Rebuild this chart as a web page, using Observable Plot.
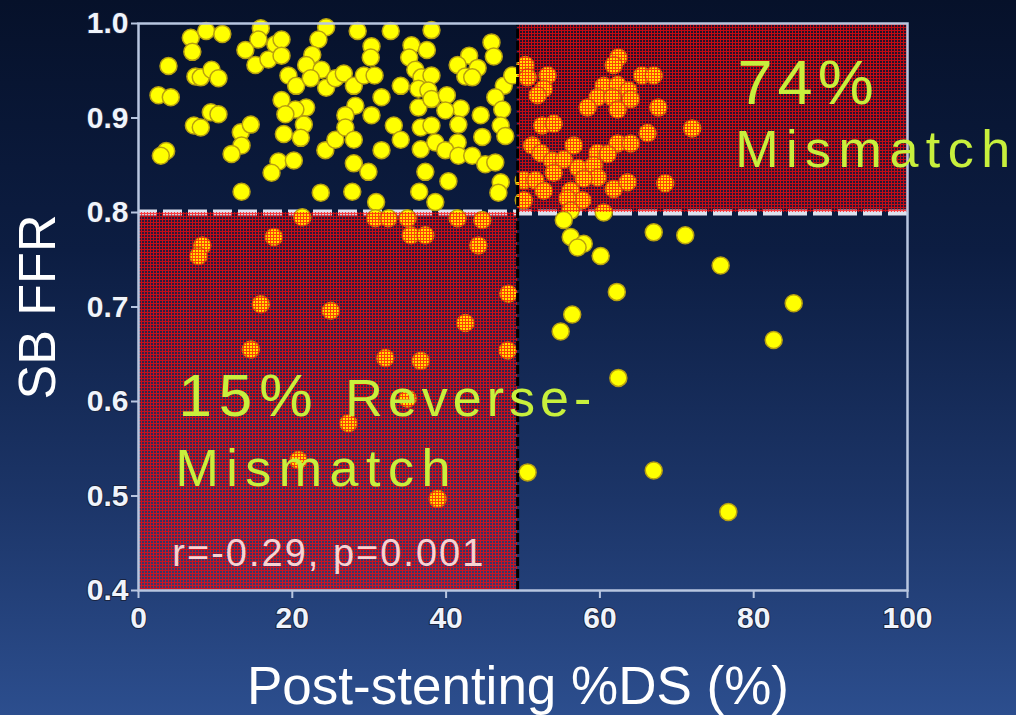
<!DOCTYPE html>
<html>
<head>
<meta charset="utf-8">
<script src="https://cdn.jsdelivr.net/npm/d3@7"></script>
<script src="https://cdn.jsdelivr.net/npm/@observablehq/plot@0.6"></script>
<style>
  html, body { margin: 0; padding: 0; width: 1016px; height: 715px; overflow: hidden;
    background: linear-gradient(to bottom, #06112a 0%, #0c1d42 35%, #1c3568 70%, #2c4e8e 100%); }
  #chart svg { display: block; }
</style>
</head>
<body>
<div id="chart"></div>
<svg width="0" height="0" style="position:absolute">
  <defs>
    <pattern id="hatch" width="3" height="3" patternUnits="userSpaceOnUse">
      <rect width="3" height="3" fill="#ff0010" fill-opacity="0.12"></rect>
      <path d="M0,0.5H3M0.5,1V3" stroke="#ff0808" stroke-width="1" stroke-opacity="0.72"></path>
    </pattern>
  </defs>
</svg>
<script>
// Post-stenting %DS (x) and SB FFR (y)
const postDS = [
  6.8,8.8,10.9,7.0,3.9,7.4,8.1,9.5,10.4,2.6,4.2,9.4,10.4,15.9,15.6,13.9,15.2,16.9,17.8,18.6,18.6,24.4,23.4,22.6,21.8,23.8,19.5,20.5,22.4,18.6,21.8,20.4,19.1,24.4,25.6,26.7,28.0,28.5,30.3,30.2,29.3,30.7,31.6,28.2,26.9,30.3,32.8,34.1,35.5,35.2,37.5,38.1,36.0,36.8,38.1,36.4,37.7,36.4,38.1,
  7.2,8.1,13.3,14.6,13.4,12.1,3.6,2.9,21.5,18.9,21.1,18.2,17.3,20.2,13.4,23.7,24.3,25.6,26.9,28.0,28.0,29.9,27.8,30.9,31.6,33.2,34.1,36.7,38.1,36.7,37.3,36.5,38.6,38.6,
  45.9,46.2,43.0,41.5,44.1,42.5,43.4,40.1,41.9,39.9,44.5,47.5,48.6,46.4,47.3,
  41.6,47.1,44.7,47.7,41.5,39.9,41.6,43.4,45.1,46.4,40.3,47.1,46.8,
  50.3,50.6,53.2,52.7,51.9,62.4,61.8,65.5,67.0,60.5,62.3,63.7,59.7,61.6,62.3,58.4,64.0,67.6,
  52.5,54.0,66.2,72.0,51.2,52.3,56.6,62.3,64.0,59.7,61.0,53.8,55.3,54.0,57.2,59.2,59.7,57.9,50.1,51.6,52.7,56.2,61.8,63.6,57.7,55.8,50.1,68.5,
  56.2,60.5,55.3,56.2,57.9,57.1,60.1,67.0,71.1,75.7,62.2,56.4,54.9,62.4,82.6,85.2,50.6,67.0,76.7,
  8.3,7.8,17.6,21.3,30.8,32.5,35.0,35.4,37.3,41.5,44.7,44.2,48.1,42.5,48.0,15.9,25.0,14.6,32.1,36.7,35.0,27.3,20.8,38.9
];
const sbFFR = [
  .985,.992,.989,.970,.955,.944,.943,.951,.942,.924,.922,.906,.904,.995,.983,.972,.956,.962,.978,.983,.966,.996,.983,.967,.956,.951,.945,.934,.942,.919,.911,.909,.904,.932,.942,.947,.934,.992,.976,.964,.945,.945,.922,.913,.903,.903,.992,.934,.977,.964,.972,.993,.951,.943,.945,.931,.929,.911,.920,
  .892,.890,.885,.893,.871,.862,.865,.860,.893,.883,.879,.854,.842,.855,.822,.821,.866,.877,.890,.877,.852,.843,.822,.811,.866,.892,.877,.890,.892,.867,.843,.822,.874,.811,
  .980,.965,.966,.956,.953,.944,.943,.924,.910,.908,.903,.934,.945,.922,.909,
  .893,.892,.880,.881,.874,.866,.860,.860,.851,.853,.833,.832,.821,
  .956,.943,.945,.931,.924,.964,.956,.945,.945,.934,.935,.929,.922,.922,.909,.911,.920,.911,
  .892,.894,.884,.889,.871,.863,.871,.873,.873,.863,.862,.855,.856,.842,.847,.850,.837,.836,.834,.834,.823,.823,.825,.832,.813,.815,.813,.831,
  .802,.800,.792,.774,.767,.763,.754,.779,.776,.744,.716,.692,.674,.625,.665,.704,.525,.527,.483,
  .765,.754,.774,.795,.794,.794,.794,.776,.776,.794,.792,.765,.714,.683,.654,.703,.696,.655,.646,.643,.603,.577,.538,.497
];
const cutoffDS = [49.3];
const cutoffFFR = [0.8];
const xTicks = [0, 20, 40, 60, 80, 100];
const yTicks = [0.4, 0.5, 0.6, 0.7, 0.8, 0.9, 1.0];
const xLabel = "Post-stenting %DS (%)";
const yLabel = "SB FFR";
const mismatchZones = [
  {x1: 0, x2: 49.3, y1: 0.4, y2: 0.8},
  {x1: 49.3, x2: 100, y1: 0.8, y2: 1.0}
];
const noteTexts = ["74%", "Mismatch", "15%", "Reverse-", "Mismatch", "r=-0.29, p=0.001"];

const points = postDS.map((x, i) => ({x, y: sbFFR[i]}));
const font = "Liberation Sans, Arial, Helvetica, sans-serif";
const green = "#c8f03c";

const plot = Plot.plot({
  width: 1016,
  height: 715,
  marginLeft: 138,
  marginRight: 109,
  marginTop: 23,
  marginBottom: 125,
  style: {background: "transparent", color: "#eef2fa", fontFamily: font, overflow: "visible"},
  x: {domain: [0, 100]},
  y: {domain: [0.4, 1.0]},
  marks: [
    Plot.ruleY(cutoffFFR, {stroke: "#dde2ee", strokeWidth: 6, strokeDasharray: "19,6"}),
    Plot.dot(points, {x: "x", y: "y", r: 8.5, fill: "#ffff00", stroke: "#b8a010", strokeWidth: 1.5}),
    Plot.rect(mismatchZones, {x1: "x1", x2: "x2", y1: "y1", y2: "y2", fill: "url(#hatch)"}),
    Plot.ruleX(cutoffDS, {y1: 0.4, y2: 1.0, stroke: "#000", strokeWidth: 3, strokeDasharray: "9,3"}),
    Plot.frame({stroke: "#b8c6e0", strokeWidth: 2.5}),
    Plot.axisX(xTicks, {tickSize: 8, tickPadding: 8, fontSize: 30, fontWeight: "bold", fontFamily: font,
      stroke: "#b8c6e0", strokeWidth: 2, fill: "#f0f4fb", textStroke: "#1a2440", textStrokeWidth: 2, label: null}),
    Plot.axisY(yTicks, {tickSize: 7, tickPadding: 3, fontSize: 30, fontWeight: "bold", fontFamily: font,
      stroke: "#b8c6e0", strokeWidth: 2, fill: "#f0f4fb", textStroke: "#1a2440", textStrokeWidth: 2,
      tickFormat: d3.format(".1f"), label: null}),
    Plot.text([yLabel], {frameAnchor: "left", textAnchor: "middle", dx: -100, rotate: -90, fontSize: 52, fill: "#ffffff", fontFamily: font, lineAnchor: "middle"}),
    Plot.text([xLabel], {frameAnchor: "bottom", textAnchor: "middle", dx: -5, dy: 97, fontSize: 53, fill: "#ffffff", fontFamily: font, lineAnchor: "middle"}),
    Plot.text([noteTexts[0]], {x: 77.9, y: 0.915, textAnchor: "start", lineAnchor: "bottom", fontSize: 63, fill: green, fontFamily: font}),
    Plot.text([noteTexts[1]], {x: 77.6, y: 0.848, textAnchor: "start", lineAnchor: "bottom", fontSize: 52, fill: green, fontFamily: font}),
    Plot.text([noteTexts[2]], {x: 5.2, y: 0.585, textAnchor: "start", lineAnchor: "bottom", fontSize: 60, fill: green, fontFamily: font}),
    Plot.text([noteTexts[3]], {x: 26.9, y: 0.585, textAnchor: "start", lineAnchor: "bottom", fontSize: 52, fill: green, fontFamily: font}),
    Plot.text([noteTexts[4]], {x: 4.8, y: 0.511, textAnchor: "start", lineAnchor: "bottom", fontSize: 52, fill: green, fontFamily: font}),
    Plot.text([noteTexts[5]], {x: 4.4, y: 0.426, textAnchor: "start", lineAnchor: "bottom", fontSize: 38, fill: "#f6d2d2", fontFamily: font})
  ]
});

const spacing = {"74%": 5, "Mismatch": 7.5, "15%": 7, "Reverse-": 5, "r=-0.29, p=0.001": 2};
d3.select(plot).selectAll("text").each(function() {
  const s = spacing[this.textContent];
  if (s !== undefined && this.children.length === 0) this.setAttribute("letter-spacing", s);
});
document.getElementById("chart").appendChild(plot);
</script>
</body>
</html>
